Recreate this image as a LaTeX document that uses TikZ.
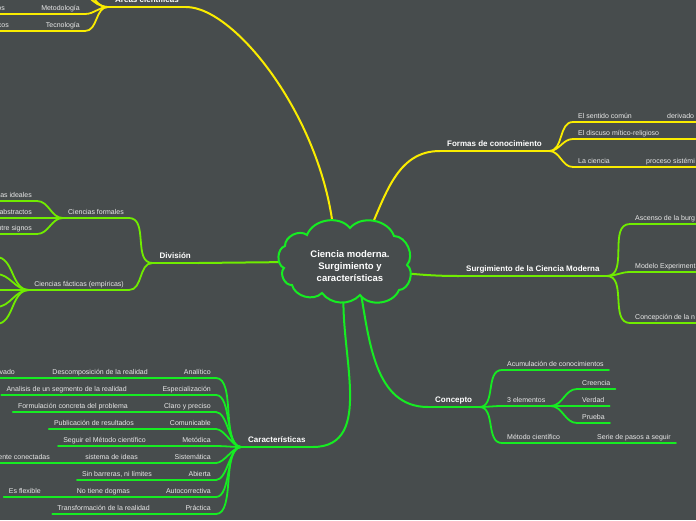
\documentclass[tikz,border=0pt]{standalone}
\usepackage{fontspec}
\setmainfont{Liberation Sans}
\usetikzlibrary{backgrounds}
\definecolor{bgc}{RGB}{71,76,77}
\definecolor{ylw}{RGB}{250,236,0}
\definecolor{lgr}{RGB}{112,236,0}
\definecolor{grn}{RGB}{22,236,34}
\definecolor{txt}{RGB}{232,232,232}

\begin{document}
\begin{tikzpicture}[x=1pt,y=1pt,
  main/.style={font=\fontsize{8}{9}\selectfont\bfseries,text=white,inner xsep=7pt,inner ysep=4pt,text depth=0pt},
  sub/.style={font=\fontsize{7}{8}\selectfont,text=txt,inner xsep=5pt,inner ysep=3pt,text depth=0pt},
  ul/.style={append after command={(\tikzlastnode.south west) edge[draw=#1,line width=1.8pt,line cap=round] (\tikzlastnode.south east)}},
  br/.style={draw=#1,line width=2pt,line cap=round},
  tw/.style={draw=#1,line width=1.8pt,line cap=round},
  puff/.style={bend left=#1}]

\useasboundingbox (0,0) rectangle (696,-520);

\draw[grn,line width=2pt,fill=bgc] (284,-268) to[puff=70] (285,-246) to[puff=65] (307,-235)
  to[puff=60] (350,-228) to[puff=60] (394,-236) to[puff=65] (407,-265) to[puff=70] (399,-290)
  to[puff=60] (360,-295) to[puff=50] (322,-293) to[puff=60] (292,-285) to[puff=70] cycle;
\node[align=center,font=\fontsize{9.5}{12}\selectfont\bfseries,text=white] (cm) at (350,-266) {Ciencia moderna.\\Surgimiento y\\características};

\node[main,ul=ylw,anchor=south west] (areas) at (108,-7) {Áreas científicas};
\node[sub,ul=ylw,anchor=south east] (metod) at (85,-14) {Metodología};
\node[sub,ul=ylw,anchor=south east] (mos) at (10,-14) {os};
\node[sub,ul=ylw,anchor=south east] (tecno) at (85,-31) {Tecnología};
\node[sub,ul=ylw,anchor=south east] (tcos) at (14,-31) {cos};
\coordinate (aup1) at (70,12);
\coordinate (aup2) at (70,28);

\node[main,ul=ylw,anchor=south west] (formas) at (440,-151) {Formas de conocimiento};
\node[sub,ul=ylw,anchor=south west] (sentido) at (573,-122) {El sentido común};
\node[sub,ul=ylw,anchor=south west] (deriv) at (662,-122) {derivado};
\node[sub,ul=ylw,anchor=south west] (discurso) at (573,-139) {El discuso mítico-religioso};
\coordinate (discend) at (700,-139);
\node[sub,ul=ylw,anchor=south west] (lacien) at (573,-167) {La ciencia};
\node[sub,ul=ylw,anchor=south west] (proceso) at (641,-167) {proceso sistémi};

\node[main,ul=lgr,anchor=south west] (surg) at (459,-276) {Surgimiento de la Ciencia Moderna};
\node[sub,ul=lgr,anchor=south west] (ascenso) at (630,-224) {Ascenso de la burg};
\node[sub,ul=lgr,anchor=south west] (modelo) at (630,-272) {Modelo Experiment};
\node[sub,ul=lgr,anchor=south west] (concep) at (630,-323) {Concepción de la n};

\node[main,ul=lgr,anchor=south east] (division) at (198,-263) {División};
\node[sub,ul=lgr,anchor=south east] (cform) at (129,-218) {Ciencias formales};
\node[sub,ul=lgr,anchor=south east] (cfact) at (129,-290) {Ciencias fácticas (empíricas)};
\node[sub,ul=lgr,anchor=south east] (ideal) at (37,-201) {as ideales};
\node[sub,ul=lgr,anchor=south east] (abstr) at (37,-218) {abstractos};
\node[sub,ul=lgr,anchor=south east] (signos) at (37,-234) {ntre signos};

\node[main,ul=grn,anchor=south west] (concepto) at (428,-407) {Concepto};
\node[sub,ul=grn,anchor=south west] (acum) at (502,-370) {Acumulación de conocimientos};
\node[sub,ul=grn,anchor=south west] (tres) at (502,-406) {3 elementos};
\node[sub,ul=grn,anchor=south west] (creencia) at (577,-389) {Creencia};
\node[sub,ul=grn,anchor=south west] (verdad) at (577,-406) {Verdad};
\node[sub,ul=grn,anchor=south west] (prueba) at (577,-423) {Prueba};
\node[sub,ul=grn,anchor=south west] (metodo) at (502,-443) {Método científico};
\node[sub,ul=grn,anchor=south west] (serie) at (592,-443) {Serie de pasos a seguir};

\node[main,ul=grn,anchor=south west] (caract) at (241,-447) {Características};
\node[sub,ul=grn,anchor=south east] (analit) at (216,-378) {Analítico};
\node[sub,ul=grn,anchor=south east] (especial) at (216,-395) {Especialización};
\node[sub,ul=grn,anchor=south east] (claro) at (216,-412) {Claro y preciso};
\node[sub,ul=grn,anchor=south east] (comun) at (216,-429) {Comunicable};
\node[sub,ul=grn,anchor=south east] (metodica) at (216,-446) {Metódica};
\node[sub,ul=grn,anchor=south east] (sistem) at (216,-463) {Sistemática};
\node[sub,ul=grn,anchor=south east] (abierta) at (216,-480) {Abierta};
\node[sub,ul=grn,anchor=south east] (autoc) at (216,-497) {Autocorrectiva};
\node[sub,ul=grn,anchor=south east] (practica) at (216,-514) {Práctica};

\node[sub,ul=grn,anchor=south east] (desc) at (153,-378) {Descomposición de la realidad};
\node[sub,ul=grn,anchor=south east] (rvado) at (20,-378) {rvado};
\node[sub,ul=grn,anchor=south east] (analisis) at (132,-395) {Analisis de un segmento de la realidad};
\node[sub,ul=grn,anchor=south east] (formul) at (133,-412) {Formulación concreta del problema};
\node[sub,ul=grn,anchor=south east] (public) at (139,-429) {Publicación de resultados};
\node[sub,ul=grn,anchor=south east] (seguir) at (151,-446) {Seguir el Método científico};
\node[sub,ul=grn,anchor=south east] (sistema) at (143,-463) {sistema de ideas};
\node[sub,ul=grn,anchor=south east] (conect) at (55,-463) {ente conectadas};
\node[sub,ul=grn,anchor=south east] (sinbar) at (157,-480) {Sin barreras, ni límites};
\node[sub,ul=grn,anchor=south east] (nodog) at (135,-497) {No tiene dogmas};
\node[sub,ul=grn,anchor=south east] (flex) at (46,-497) {Es flexible};
\node[sub,ul=grn,anchor=south east] (transf) at (155,-514) {Transformación de la realidad};

\begin{scope}[on background layer]
\fill[bgc] (0,0) rectangle (696,-520);
\coordinate (cA) at (334,-236);
\coordinate (cF) at (367,-236);
\coordinate (cS) at (402,-273);
\coordinate (cD) at (292,-262);
\coordinate (cC) at (360,-288);
\coordinate (cK) at (344,-288);
\draw[br=ylw] (cA) .. controls +(-10,115) and +(50,0) .. (areas.south east);
\draw[br=ylw] (cF) to[out=65,in=180] (formas.south west);
\draw[br=lgr] (cS) to[out=-5,in=180] (surg.south west);
\draw[br=lgr] (cD) -- (division.south east);
\draw[br=grn] (cC) to[out=-80,in=180] (concepto.south west);
\draw[br=grn] (cK) to[out=-95,in=0] (caract.south east);
\end{scope}

\draw[tw=ylw] (metod.south east) to[out=0,in=180] (areas.south west);
\draw[tw=ylw] (tecno.south east) to[out=0,in=180] (areas.south west);
\draw[tw=ylw] (aup1) to[out=0,in=180] (areas.south west);
\draw[tw=ylw] (aup2) to[out=0,in=180] (areas.south west);
\draw[tw=ylw] (mos.south east) -- (metod.south west);
\draw[tw=ylw] (tcos.south east) -- (tecno.south west);

\draw[tw=ylw] (formas.south east) to[out=0,in=180] (sentido.south west);
\draw[tw=ylw] (formas.south east) to[out=0,in=180] (discurso.south west);
\draw[tw=ylw] (formas.south east) to[out=0,in=180] (lacien.south west);
\draw[tw=ylw] (sentido.south east) -- (deriv.south west);
\draw[tw=ylw] (discurso.south east) -- (discend);
\draw[tw=ylw] (lacien.south east) -- (proceso.south west);

\draw[tw=lgr] (surg.south east) to[out=0,in=180] (ascenso.south west);
\draw[tw=lgr] (surg.south east) to[out=0,in=180] (modelo.south west);
\draw[tw=lgr] (surg.south east) to[out=0,in=180] (concep.south west);

\draw[tw=lgr] (cform.south east) to[out=0,in=180] (division.south west);
\draw[tw=lgr] (cfact.south east) to[out=0,in=180] (division.south west);
\draw[tw=lgr] (ideal.south east) to[out=0,in=180] (cform.south west);
\draw[tw=lgr] (abstr.south east) -- (cform.south west);
\draw[tw=lgr] (signos.south east) to[out=0,in=180] (cform.south west);
\foreach \i/\y in {1/257,2/274,3/290,4/307,5/324} {
  \coordinate (fk\i) at (-4,-\y);
  \draw[tw=lgr] (fk\i) to[out=0,in=180] (cfact.south west);
}

\draw[tw=grn] (concepto.south east) to[out=0,in=180] (acum.south west);
\draw[tw=grn] (concepto.south east) to[out=0,in=180] (tres.south west);
\draw[tw=grn] (concepto.south east) to[out=0,in=180] (metodo.south west);
\draw[tw=grn] (tres.south east) to[out=0,in=180] (creencia.south west);
\draw[tw=grn] (tres.south east) to[out=0,in=180] (verdad.south west);
\draw[tw=grn] (tres.south east) to[out=0,in=180] (prueba.south west);
\draw[tw=grn] (metodo.south east) -- (serie.south west);

\foreach \n in {analit,especial,claro,comun,metodica,sistem,abierta,autoc,practica}
  \draw[tw=grn] (\n.south east) to[out=0,in=180,looseness=0.7] (caract.south west);
\draw[tw=grn] (desc.south east) -- (analit.south west);
\draw[tw=grn] (rvado.south east) -- (desc.south west);
\draw[tw=grn] (analisis.south east) -- (especial.south west);
\draw[tw=grn] (formul.south east) -- (claro.south west);
\draw[tw=grn] (public.south east) -- (comun.south west);
\draw[tw=grn] (seguir.south east) -- (metodica.south west);
\draw[tw=grn] (sistema.south east) -- (sistem.south west);
\draw[tw=grn] (conect.south east) -- (sistema.south west);
\draw[tw=grn] (sinbar.south east) -- (abierta.south west);
\draw[tw=grn] (nodog.south east) -- (autoc.south west);
\draw[tw=grn] (flex.south east) -- (nodog.south west);
\draw[tw=grn] (transf.south east) -- (practica.south west);

\end{tikzpicture}
\end{document}
